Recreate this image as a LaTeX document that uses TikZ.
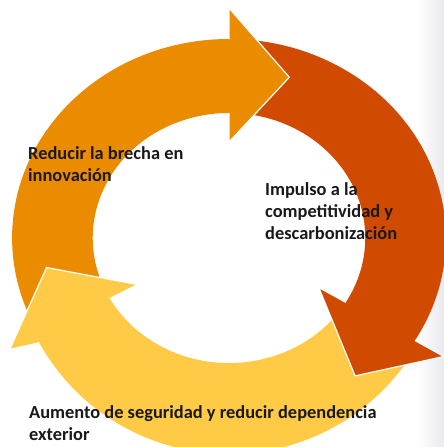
\documentclass[tikz,border=0pt]{standalone}
\usepackage{fontspec}
\setmainfont{Carlito}
\usetikzlibrary{calc}
\definecolor{cycOrange}{HTML}{EB8C00}
\definecolor{cycRed}{HTML}{D04A02}
\definecolor{cycYellow}{HTML}{FFCA45}
\definecolor{sideGrey}{RGB}{233,233,238}
\tikzset{
  ringbody/.style = {fill=#1},
  tipfill/.style = {fill=#1},
  rim/.style = {draw=white, line width=1.2pt, line join=miter},
  caption/.style = {font=\bfseries\fontsize{18.4}{22}\selectfont, text=black!90, align=left, inner sep=0pt, anchor=base west}
}
\newcommand{\ringShaft}[4]{%
  % #1: szin
  % #2: kezdo szog (a farok, az elozo fej alatt)
  % #3: veg szog (a fej alapja)
  % #4: kulso y sugar
  \fill[ringbody={#1}] (#2:\rIn) arc[start angle=#2, end angle=#3, radius=\rIn]
    -- (#3:{\rOut} and {#4}) arc[start angle=#3, end angle=#2, x radius=\rOut, y radius=#4] -- cycle;
}
\newcommand{\ringHead}[4]{%
  % #1: szin
  % #2: a fej alapjanak szoge
  % #3: kulso y sugar
  % #4: a csucs sugara
  \pgfmathsetmacro{\tipAng}{#2-\headSpan}
  \fill[tipfill={#1}] (#2:\rIn) -- (#2:\barbIn) -- (\tipAng:#4) -- (#2:\barbOut) -- (#2:{\rOut} and {#3}) -- cycle;
  \draw[rim] (#2:\rIn) -- (#2:\barbIn) -- (\tipAng:#4) -- (#2:\barbOut) -- (#2:{\rOut} and {#3});
}
\begin{document}
\begin{tikzpicture}[x=1pt, y=1pt]
    \def\rIn{125}
    \def\rOut{199}
    \def\barbIn{96}
    \def\barbOut{230}
    \def\headSpan{19}

    \useasboundingbox (0,0) rectangle (444,-447);
    \clip (0,0) rectangle (444,-447);

    % Side band
    \shade[left color=white, right color=sideGrey] (418,0) rectangle (444,-447);

    %==== Cycle ====
    \begin{scope}[shift={(229,-238)}, xscale=1.09]
        % Bodies
        \ringShaft{cycRed}{87}{-32}{\rOut}
        \ringShaft{cycYellow}{-34}{-152}{216}
        \ringShaft{cycOrange}{206}{89}{\rOut}

        % Heads
        \ringHead{cycOrange}{90}{\rOut}{170}
        \ringHead{cycRed}{-31}{\rOut}{180}
        \ringHead{cycYellow}{-151}{216}{170}
    \end{scope}

    % Labels
    \node[caption] (innov) at (28,-181) {Reducir la brecha en\\innovación};
    \node[caption] (compet) at (265,-239) {Impulso a la\\competitividad y\\descarbonización};
    \node[caption] (secur) at (29,-440) {Aumento de seguridad y reducir dependencia\\exterior};
\end{tikzpicture}
\end{document}
